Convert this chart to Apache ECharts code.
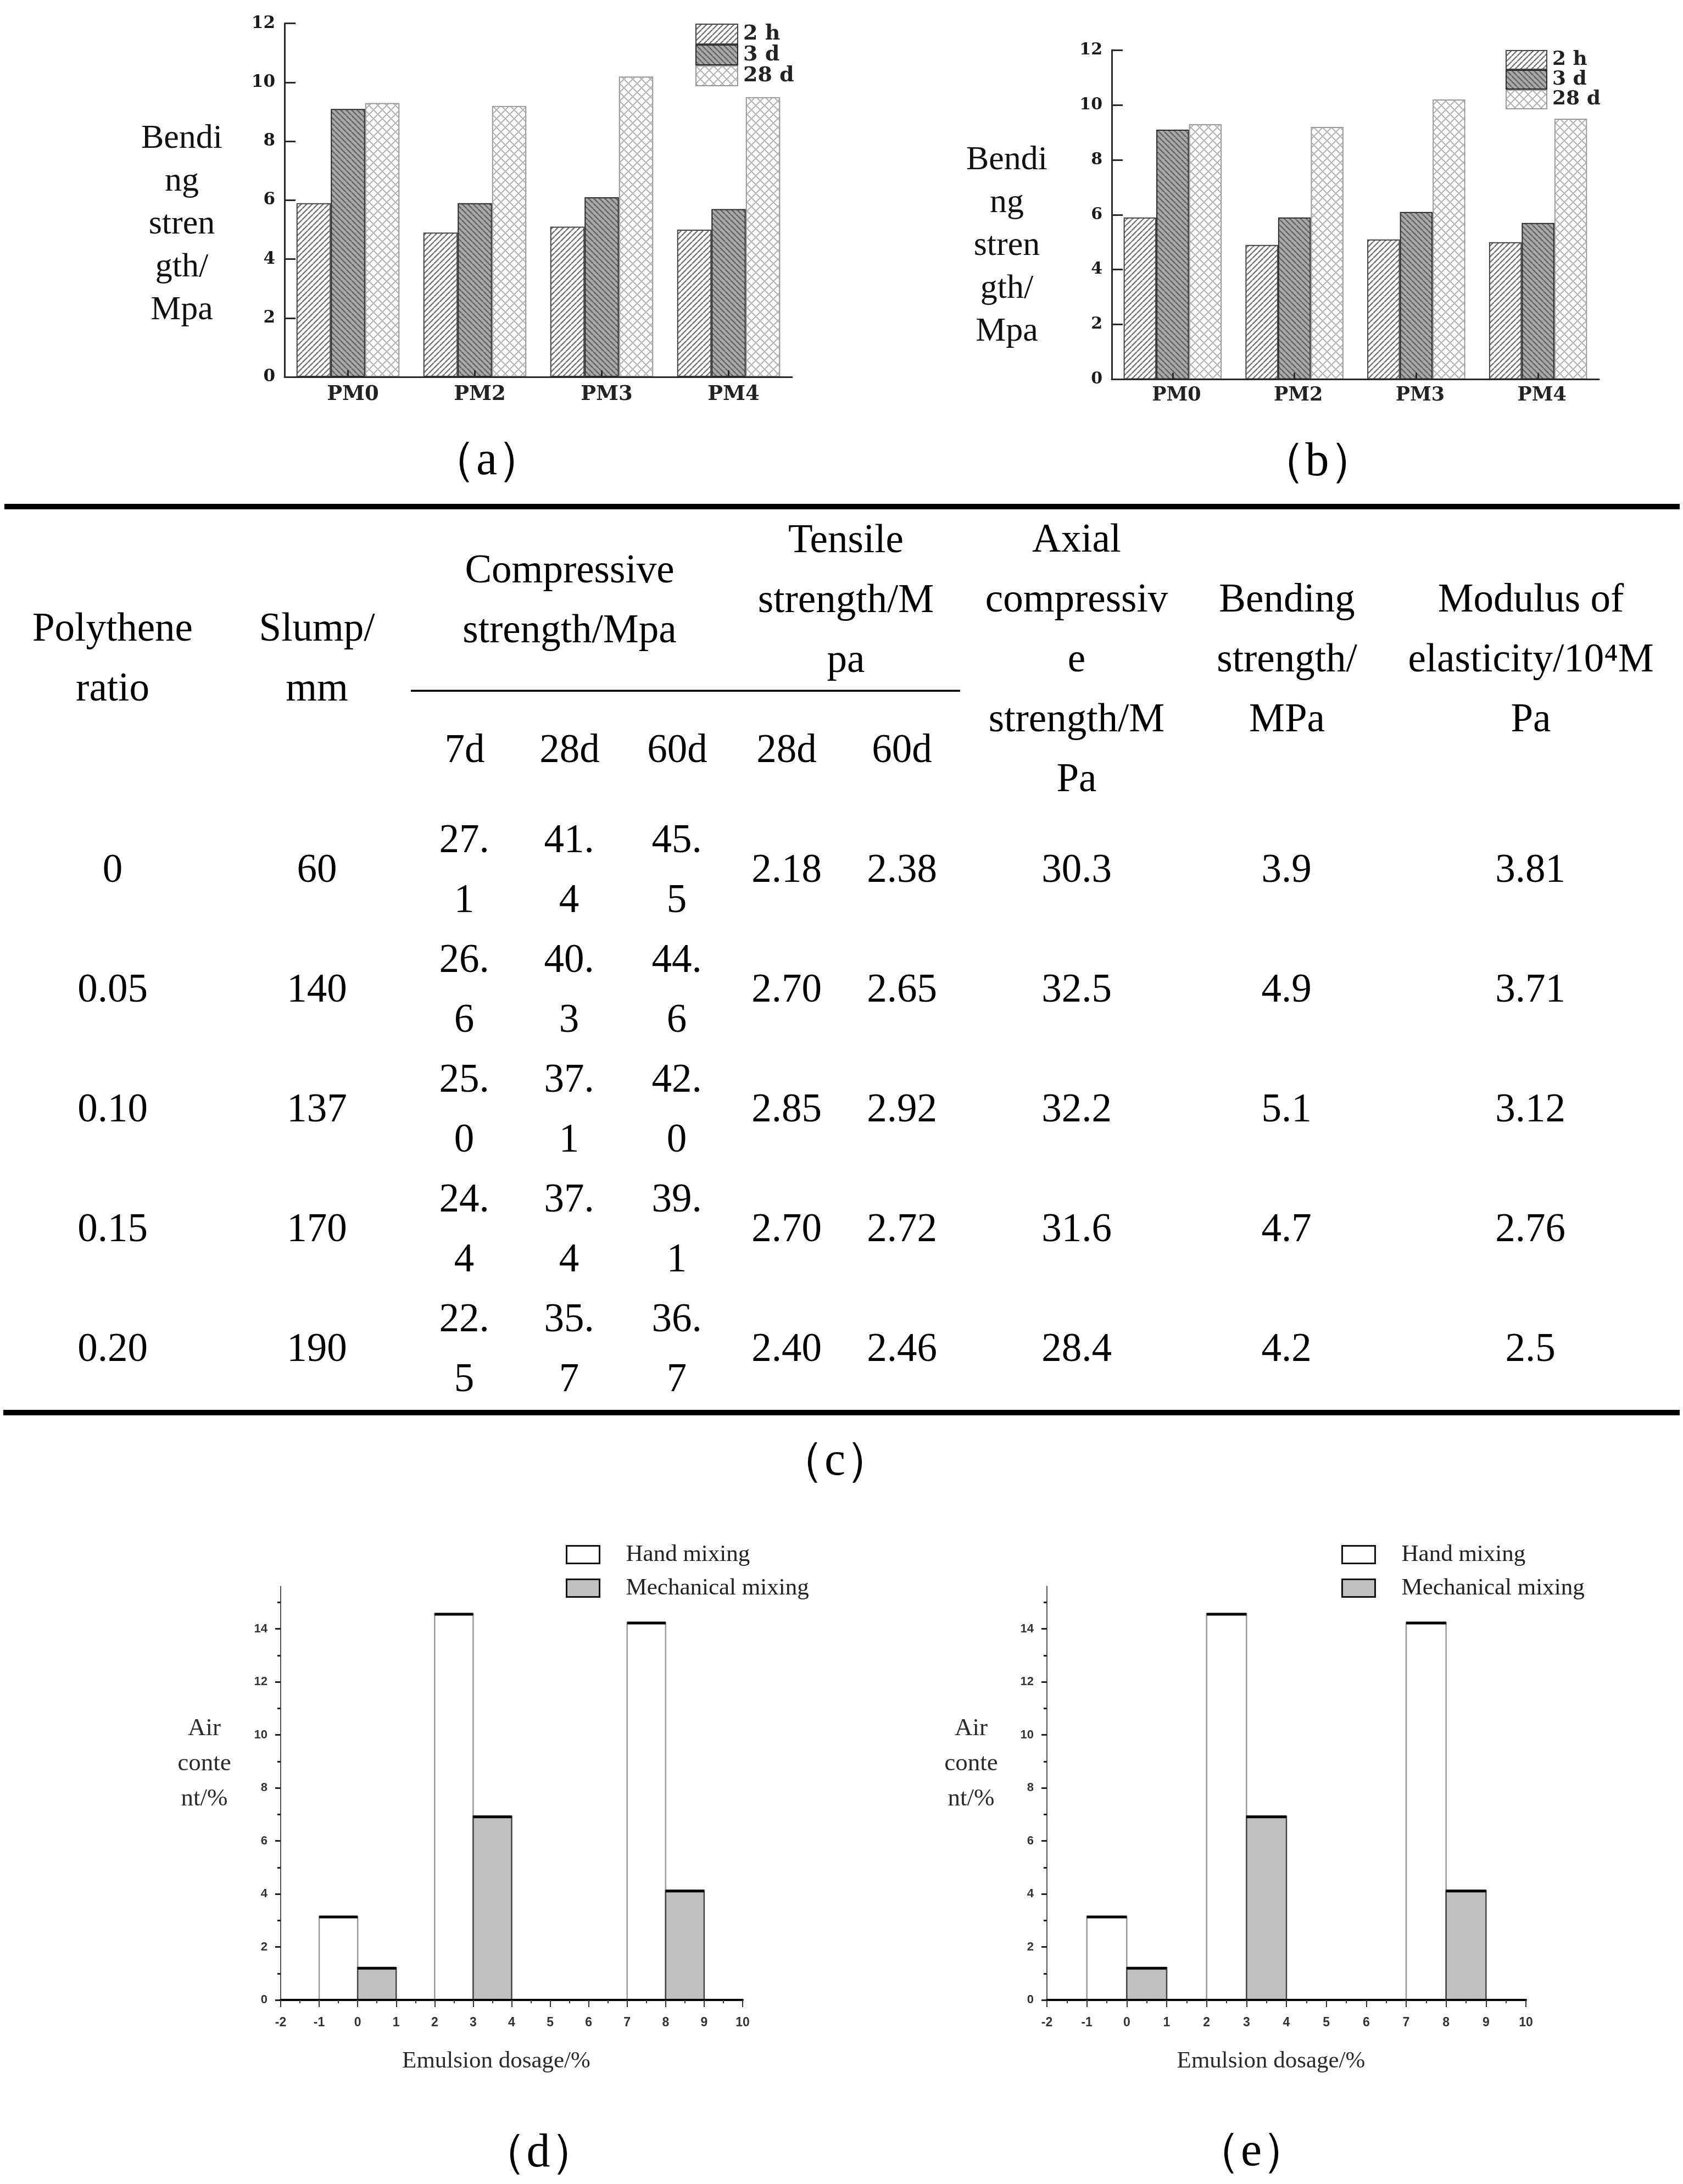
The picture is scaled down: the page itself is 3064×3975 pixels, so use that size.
<!DOCTYPE html>
<html><head><meta charset="utf-8">
<script src="https://cdn.jsdelivr.net/npm/echarts@6/dist/echarts.min.js"></script>
<style>html,body{margin:0;padding:0;background:#fff}#c{width:3064px;height:3975px}</style>
</head><body><div id="c"></div>
<script>
// ---------- data ----------
const bendCats = ['PM0', 'PM2', 'PM3', 'PM4'];
const bend2h = [5.9, 4.9, 5.1, 5.0];
const bend3d = [9.1, 5.9, 6.1, 5.7];
const bend28d = [9.3, 9.2, 10.2, 9.5];
const bendTicks = [0, 2, 4, 6, 8, 10, 12];

const dosage = [0, 3, 8];
const handMix = [3.15, 14.57, 14.24];
const mechMix = [1.22, 6.93, 4.13];
const airTicksMajor = [0, 2, 4, 6, 8, 10, 12, 14];
const airTicksMinor = [1, 3, 5, 7, 9, 11, 13, 15];

const tblRatio = ['0', '0.05', '0.10', '0.15', '0.20'];
const tblSlump = ['60', '140', '137', '170', '190'];
const tblComp7 = ['27.1', '26.6', '25.0', '24.4', '22.5'];
const tblComp28 = ['41.4', '40.3', '37.1', '37.4', '35.7'];
const tblComp60 = ['45.5', '44.6', '42.0', '39.1', '36.7'];
const tblTens28 = ['2.18', '2.70', '2.85', '2.70', '2.40'];
const tblTens60 = ['2.38', '2.65', '2.92', '2.72', '2.46'];
const tblAxial = ['30.3', '32.5', '32.2', '31.6', '28.4'];
const tblBend = ['3.9', '4.9', '5.1', '4.7', '4.2'];
const tblModulus = ['3.81', '3.71', '3.12', '2.76', '2.5'];
const tblHeaders = ['Polythene\nratio', 'Slump/\nmm', 'Compressive\nstrength/Mpa', 'Tensile\nstrength/M\npa',
  'Axial\ncompressiv\ne\nstrength/M\nPa', 'Bending\nstrength/\nMPa', 'Modulus of\nelasticity/10\u2074M\nPa'];
const tblSub = ['7d', '28d', '60d', '28d', '60d'];

const bendTitle = 'Bendi\nng\nstren\ngth/\nMpa';
const airTitle = 'Air\nconte\nnt/%';
const airXTitle = 'Emulsion dosage/%';

// ---------- patterns ----------
function hatch(bg, fg, dirs, size, lw) {
  const c = document.createElement('canvas');
  c.width = c.height = size;
  const g = c.getContext('2d');
  g.fillStyle = bg; g.fillRect(0, 0, size, size);
  g.strokeStyle = fg; g.lineWidth = lw; g.beginPath();
  for (const d of dirs) {
    for (const k of [-size, 0, size]) {
      if (d === '/') { g.moveTo(k, size); g.lineTo(k + size, 0); }
      else { g.moveTo(k, 0); g.lineTo(k + size, size); }
    }
  }
  g.stroke();
  return { image: c, repeat: 'repeat' };
}
const pat2h = hatch('#ffffff', '#747474', ['/'], 10, 2.4);
const pat3d = hatch('#a9a9a9', '#666666', ['\\'], 10, 2.6);
const pat28d = hatch('#ffffff', '#b4b4b4', ['/', '\\'], 16, 2.2);

// ---------- axes ----------
const SERIF = 'Liberation Serif';
function bendX(gi, fs, margin, padL) {
  return { type: 'category', gridIndex: gi, data: bendCats, z: 5,
    axisLine: { show: true, lineStyle: { color: '#2a2a2a', width: 3 } },
    axisTick: { show: true, inside: true, alignWithLabel: true, length: 12, lineStyle: { color: '#2a2a2a', width: 3 } },
    axisLabel: { fontFamily: 'DejaVu Serif', fontWeight: 'bold', fontSize: fs, color: '#222', margin: margin, padding: [0, 0, 0, padL] },
    splitLine: { show: false } };
}
function bendY(gi, fs) {
  return { type: 'value', gridIndex: gi, min: 0, max: 12, interval: 2, z: 5,
    axisLine: { show: true, onZero: false, lineStyle: { color: '#2a2a2a', width: 3 } },
    axisTick: { show: true, inside: true, length: 20, customValues: bendTicks, lineStyle: { color: '#2a2a2a', width: 3 } },
    axisLabel: { customValues: bendTicks, fontFamily: 'DejaVu Serif', fontWeight: 'bold', fontSize: fs, color: '#1a1a1a', margin: 17 },
    splitLine: { show: false } };
}
function airX(gi) {
  return { type: 'value', gridIndex: gi, min: -2, max: 10, interval: 1, z: 5,
    axisLine: { show: true, onZero: false, lineStyle: { color: '#000', width: 4 } },
    axisTick: { show: true, length: 13, lineStyle: { color: '#333', width: 2 } },
    minorTick: { show: true, splitNumber: 2, length: 6, lineStyle: { color: '#333', width: 2 } },
    axisLabel: { fontFamily: 'Liberation Sans', fontWeight: 'bold', fontSize: 23, color: '#333', margin: 30 },
    splitLine: { show: false }, minorSplitLine: { show: false },
    name: airXTitle, nameLocation: 'middle', nameGap: 90,
    nameTextStyle: { fontFamily: SERIF, fontSize: 43, color: '#2a2a2a', padding: [0, 56, 0, 0] } };
}
function airY(gi) {
  return { type: 'value', gridIndex: gi, position: 'left', min: 0, max: 15.6, interval: 2,
    axisLine: { show: true, onZero: false, lineStyle: { color: '#555', width: 2 } },
    axisTick: { show: true, length: 10, customValues: airTicksMajor, lineStyle: { color: '#222', width: 3 } },
    axisLabel: { customValues: airTicksMajor, fontFamily: 'Liberation Sans', fontWeight: 'bold', fontSize: 22, color: '#333', margin: 24 },
    splitLine: { show: false } };
}
function airYMinor(gi) {
  return { type: 'value', gridIndex: gi, position: 'left', offset: 0, min: 0, max: 15.6,
    axisLine: { show: false, onZero: false }, axisLabel: { show: false }, splitLine: { show: false },
    axisTick: { show: true, length: 6, customValues: airTicksMinor, lineStyle: { color: '#222', width: 3 } } };
}

// ---------- series ----------
function bendSeries(xi, bw) {
  const mk = (name, data, color, border) => ({ type: 'bar', name, data, xAxisIndex: xi, yAxisIndex: xi,
    barWidth: bw, barGap: '0%', itemStyle: { color, borderColor: border, borderWidth: 2 } });
  return [mk('2 h', bend2h, pat2h, '#444'), mk('3 d', bend3d, pat3d, '#2a2a2a'), mk('28 d', bend28d, pat28d, '#999')];
}
function airRender(side, fill, stroke) {
  return function (params, api) {
    const d = api.value(0), v = api.value(1);
    const x0 = side < 0 ? d - 1 : d, x1 = side < 0 ? d : d + 1;
    const p0 = api.coord([x0, 0]), p1 = api.coord([x1, v]);
    return { type: 'group', children: [
      { type: 'rect', shape: { x: p0[0], y: p1[1], width: p1[0] - p0[0], height: p0[1] - p1[1] },
        style: { fill: fill, stroke: stroke, lineWidth: 2.5 } },
      { type: 'line', shape: { x1: p0[0], y1: p1[1] + 1, x2: p1[0], y2: p1[1] + 1 },
        style: { stroke: '#000', lineWidth: 5 } }
    ] };
  };
}
function airSeries(xi, yi) {
  return [
    { type: 'custom', name: 'Hand mixing', xAxisIndex: xi, yAxisIndex: yi, z: 3,
      data: dosage.map((d, i) => [d, handMix[i]]), encode: { x: 0, y: 1 },
      itemStyle: { color: '#fff', borderColor: '#111', borderWidth: 3 },
      renderItem: airRender(-1, '#ffffff', '#9a9a9a') },
    { type: 'custom', name: 'Mechanical mixing', xAxisIndex: xi, yAxisIndex: yi, z: 3,
      data: dosage.map((d, i) => [d, mechMix[i]]), encode: { x: 0, y: 1 },
      itemStyle: { color: '#c0c0c0', borderColor: '#111', borderWidth: 3 },
      renderItem: airRender(1, '#c0c0c0', '#444') }
  ];
}

// ---------- legends ----------
function bendLegend(left, top, w, h, fs) {
  return { orient: 'vertical', left, top, itemWidth: w, itemHeight: h, itemGap: 0, icon: 'rect',
    data: ['2 h', '3 d', '28 d'], selectedMode: false,
    textStyle: { fontFamily: 'DejaVu Serif', fontWeight: 'bold', fontSize: fs, lineHeight: h, color: '#222', padding: [0, 0, 0, 5] } };
}
function airLegend(left, top) {
  return { orient: 'vertical', left, top, itemWidth: 60, itemHeight: 32, itemGap: 18, icon: 'rect', selectedMode: false,
    data: [{ name: 'Hand mixing', itemStyle: { color: '#fff', borderColor: '#111', borderWidth: 3 } },
           { name: 'Mechanical mixing', itemStyle: { color: '#c0c0c0', borderColor: '#111', borderWidth: 3 } }],
    textStyle: { fontFamily: SERIF, fontSize: 43, color: '#222', padding: [0, 0, 0, 43] } };
}

// ---------- table and titles (graphic) ----------
const colX = [205, 577, 845, 1036, 1232, 1432, 1642, 1960, 2342, 2786];
const hdrX = [205, 577, 1037, 1540, 1960, 2343, 2787];
const hdrY = [1201, 1201, 1095, 1095, 1203, 1203, 1203];
const subX = [846, 1037, 1233, 1432, 1642];
const rowY0 = 1586, rowStep = 218;
const TF = { fontFamily: SERIF, fontSize: 73, lineHeight: 109, fill: '#000', align: 'center', verticalAlign: 'middle' };
function txt(x, y, text, extra) {
  return { type: 'text', x, y, silent: true, style: Object.assign({}, TF, extra || {}, { text }) };
}
const graphic = [];
graphic.push({ type: 'rect', shape: { x: 8, y: 917, width: 3050, height: 10 }, style: { fill: '#000' } });
graphic.push({ type: 'rect', shape: { x: 748, y: 1255.5, width: 1000, height: 3.5 }, style: { fill: '#000' } });
graphic.push({ type: 'rect', shape: { x: 6, y: 2566, width: 3052, height: 10 }, style: { fill: '#000' } });
tblHeaders.forEach((h, i) => graphic.push(txt(hdrX[i], hdrY[i], h)));
tblSub.forEach((s, i) => graphic.push(txt(subX[i], 1368, s)));
const split = v => v.slice(0, 3) + '\n' + v.slice(3);
const cols = [tblRatio, tblSlump, tblComp7.map(split), tblComp28.map(split), tblComp60.map(split),
  tblTens28, tblTens60, tblAxial, tblBend, tblModulus];
cols.forEach((col, ci) => col.forEach((v, ri) => graphic.push(txt(colX[ci], rowY0 + ri * rowStep, v))));
// axis titles
const BT = { fontSize: 62, lineHeight: 78, fill: '#111' };
graphic.push(txt(331, 409, bendTitle, BT));
graphic.push(txt(1833, 448, bendTitle, BT));
const AT = { fontSize: 45, lineHeight: 64, fill: '#2a2a2a' };
graphic.push(txt(372, 3210, airTitle, AT));
graphic.push(txt(1768, 3210, airTitle, AT));
// captions
const CAP = { fontFamily: SERIF, fontSize: 86, lineHeight: 100 };
graphic.push(txt(886, 840, '\uff08a\uff09', CAP));
graphic.push(txt(2398, 842, '\uff08b\uff09', CAP));
graphic.push(txt(1520, 2661, '\uff08c\uff09', CAP));
graphic.push(txt(980, 3920, '\uff08d\uff09', CAP));
graphic.push(txt(2278, 3918, '\uff08e\uff09', CAP));

// ---------- chart ----------
const chart = echarts.init(document.getElementById('c'), null, { renderer: 'canvas', width: 3064, height: 3975, devicePixelRatio: 1 });
chart.setOption({
  animation: false,
  backgroundColor: '#fff',
  grid: [
    { left: 518, top: 42.7, width: 924, height: 643.3 },
    { left: 2024, top: 91, width: 887, height: 599.5 },
    { left: 511, top: 2887.3, width: 841, height: 752.7 },
    { left: 1906, top: 2887.3, width: 872, height: 752.7 }
  ],
  xAxis: [bendX(0, 37, 14, 18), bendX(1, 35, 12, 14), airX(2), airX(3)],
  yAxis: [bendY(0, 31), bendY(1, 30), airY(2), airYMinor(2), airY(3), airYMinor(3)],
  legend: [bendLegend(1261, 38, 76, 36, 38), bendLegend(2736, 86, 74, 34, 36), airLegend(1025, 2803), airLegend(2437, 2803)],
  series: [].concat(bendSeries(0, 62.5), bendSeries(1, 59.5), airSeries(2, 2), airSeries(3, 4)),
  graphic: graphic
});
</script></body></html>
